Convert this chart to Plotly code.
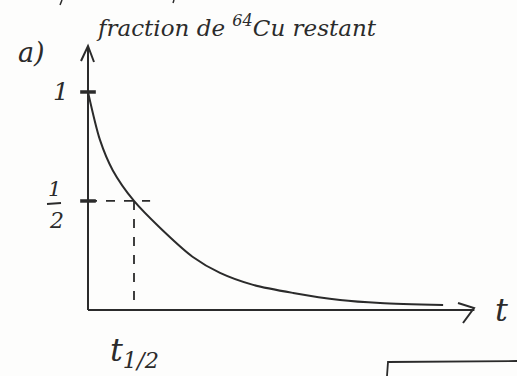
import plotly.graph_objects as go

# ---- data (time in half-lives, remaining fraction) ----
time = [0.0, 0.26, 0.54, 1.0, 1.57, 2.28, 2.87, 3.59, 4.46, 5.48, 6.35, 7.72]
fraction = [1.0, 0.78, 0.64, 0.5, 0.376, 0.243, 0.17, 0.115, 0.078, 0.046, 0.032, 0.023]
t_half = 1.0
half_value = 0.5
tick_values = [1.0, 0.5]

W, H = 517, 376
INK = "#2b2b2b"
FONT = "DejaVu Serif"

# data ranges chosen so the axes sit where the sketch has them
x_range = [-1.913, 9.326]
y_range = [-0.303, 1.422]


def px(x):
    return x / W


def py(y):
    return 1 - y / H


fig = go.Figure()
fig.add_trace(go.Scatter(x=time, y=fraction, mode="lines",
                         line=dict(color=INK, width=2, shape="spline", smoothing=0.8),
                         hoverinfo="skip", showlegend=False))

shapes = []
x_end = 8.4
y_end = 1.21
# axes
shapes.append(dict(type="line", xref="x", yref="y", x0=0, y0=0, x1=x_end, y1=0,
                   line=dict(color=INK, width=2)))
shapes.append(dict(type="line", xref="x", yref="y", x0=0, y0=0, x1=0, y1=y_end,
                   line=dict(color=INK, width=2)))
# open arrow heads
shapes.append(dict(type="path", xref="paper", yref="paper",
                   path=f"M {px(458)} {py(303)} L {px(474)} {py(308)} L {px(463)} {py(323)}",
                   line=dict(color=INK, width=2)))
shapes.append(dict(type="path", xref="paper", yref="paper",
                   path=f"M {px(81)} {py(61)} L {px(88)} {py(46)} L {px(94)} {py(62)}",
                   line=dict(color=INK, width=2)))
# ticks on y axis
for v in tick_values:
    shapes.append(dict(type="line", xref="x", yref="y", x0=-0.17, x1=0.17, y0=v, y1=v,
                       line=dict(color=INK, width=3.5)))
# dashed guides to the half-life
shapes.append(dict(type="line", xref="x", yref="y", x0=0, x1=t_half + 0.35,
                   y0=half_value, y1=half_value,
                   line=dict(color=INK, width=1.8, dash="dash")))
shapes.append(dict(type="line", xref="x", yref="y", x0=t_half, x1=t_half,
                   y0=half_value, y1=0,
                   line=dict(color=INK, width=1.8, dash="dash")))
# fraction bar of 1/2
shapes.append(dict(type="line", xref="paper", yref="paper", x0=px(47), x1=px(61),
                   y0=py(204), y1=py(203), line=dict(color=INK, width=1.8)))
# corner of a box at bottom right
shapes.append(dict(type="path", xref="paper", yref="paper",
                   path=f"M {px(387)} {py(376)} L {px(388)} {py(362)} L {px(517)} {py(361)}",
                   line=dict(color=INK, width=1.8)))
# bits of previous line at top
shapes.append(dict(type="line", xref="paper", yref="paper", x0=px(62), x1=px(60),
                   y0=py(0), y1=py(5), line=dict(color=INK, width=1.5)))
shapes.append(dict(type="line", xref="paper", yref="paper", x0=px(174), x1=px(173),
                   y0=py(0), y1=py(3), line=dict(color=INK, width=1.5)))

annotations = [
    dict(text="a)", x=px(31), y=py(52), size=27),
    dict(text="fraction de <sup>64</sup>Cu restant", x=px(236), y=py(26), size=23),
    dict(text="1", x=px(61), y=py(91), size=25),
    dict(text="1", x=px(54), y=py(189), size=21),
    dict(text="2", x=px(56), y=py(220), size=22),
    dict(text="t", x=px(501), y=py(310), size=32),
    dict(text="t<sub>1/2</sub>", x=px(134), y=py(352), size=32),
]
fig.update_layout(annotations=[
    dict(text=a["text"], x=a["x"], y=a["y"], xref="paper", yref="paper",
         showarrow=False, xanchor="center", yanchor="middle",
         font=dict(family=FONT, size=a["size"], color=INK, style="italic"))
    for a in annotations
])

fig.update_layout(
    width=W, height=H, autosize=False,
    margin=dict(l=0, r=0, t=0, b=0),
    paper_bgcolor="#fdfdfc", plot_bgcolor="#fdfdfc",
    shapes=shapes,
    xaxis=dict(range=x_range, visible=False, fixedrange=True),
    yaxis=dict(range=y_range, visible=False, fixedrange=True),
    showlegend=False,
)

fig.write_html("out.html", config=dict(displayModeBar=False),
               post_script="document.body.style.margin='0';")
